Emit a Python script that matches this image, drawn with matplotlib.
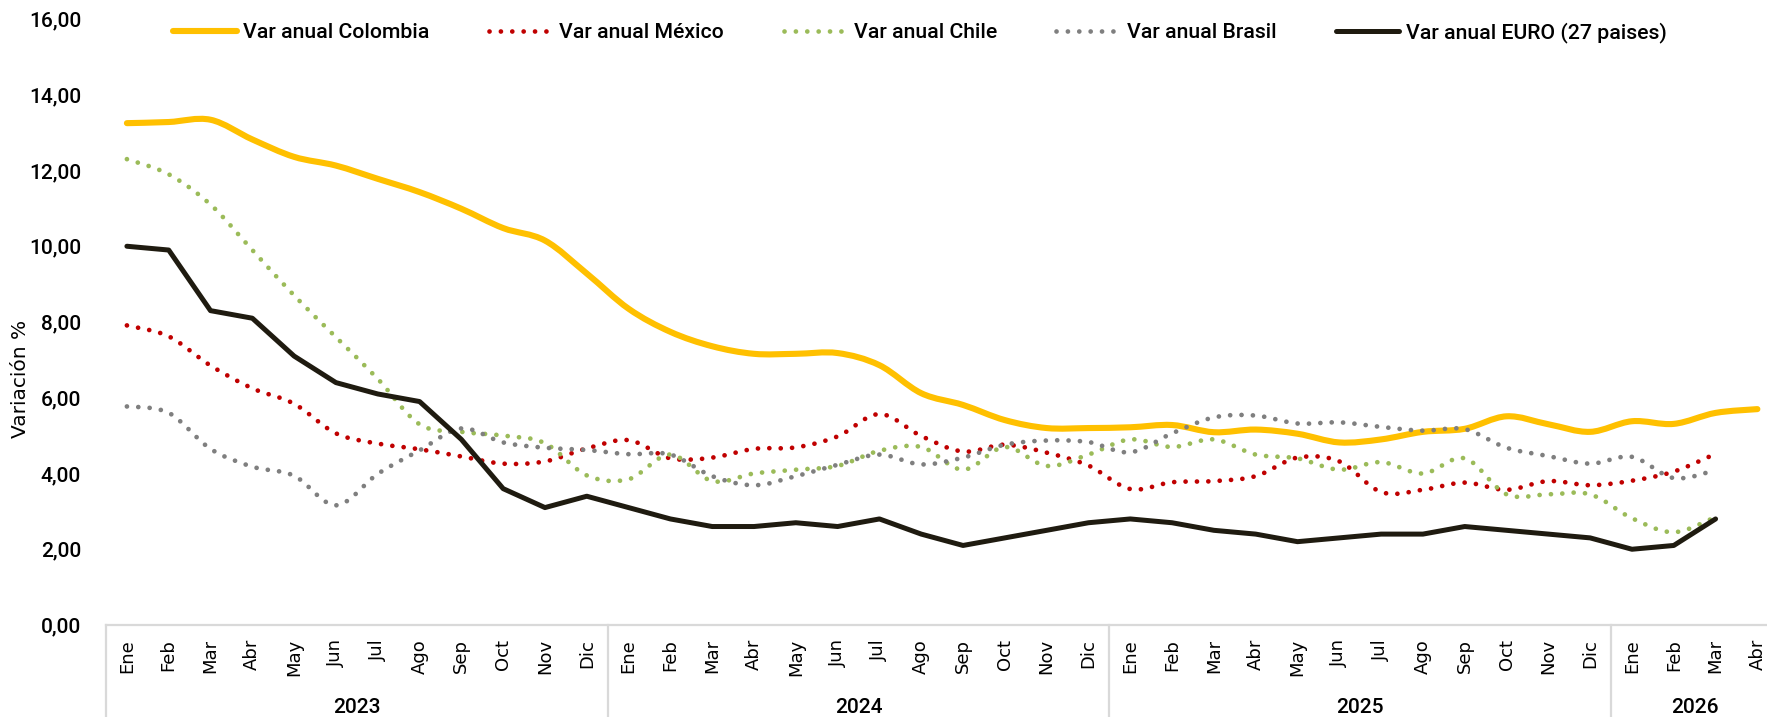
import matplotlib
matplotlib.use("Agg")
import matplotlib.pyplot as plt
import matplotlib.transforms as mtransforms
from matplotlib.path import Path
from matplotlib.patches import PathPatch
from matplotlib.lines import Line2D

# datos (variación anual %)
meses = ["Ene", "Feb", "Mar", "Abr", "May", "Jun", "Jul", "Ago", "Sep", "Oct", "Nov", "Dic"]
etiquetas_mes = meses * 3 + meses[:4]
anios = ["2023", "2024", "2025", "2026"]
meses_por_anio = [12, 12, 12, 4]

colombia = [13.25, 13.28, 13.34, 12.82, 12.36, 12.13, 11.78, 11.43, 10.99, 10.48, 10.15, 9.28,
            8.35, 7.74, 7.36, 7.16, 7.16, 7.18, 6.86, 6.12, 5.81, 5.41, 5.20, 5.20,
            5.22, 5.28, 5.09, 5.16, 5.05, 4.82, 4.90, 5.10, 5.18, 5.51, 5.30, 5.10,
            5.38, 5.31, 5.60, 5.70]
mexico = [7.91, 7.62, 6.85, 6.25, 5.84, 5.06, 4.79, 4.64, 4.45, 4.26, 4.32, 4.66,
          4.88, 4.40, 4.42, 4.65, 4.69, 4.98, 5.57, 4.99, 4.58, 4.76, 4.55, 4.21,
          3.59, 3.77, 3.80, 3.93, 4.42, 4.32, 3.51, 3.57, 3.76, 3.57, 3.80, 3.69,
          3.81, 4.05, 4.52]
chile = [12.3, 11.9, 11.1, 9.9, 8.7, 7.6, 6.5, 5.3, 5.1, 5.0, 4.8, 3.95,
         3.85, 4.5, 3.8, 4.0, 4.1, 4.2, 4.6, 4.7, 4.1, 4.7, 4.2, 4.5,
         4.9, 4.7, 4.9, 4.5, 4.4, 4.1, 4.3, 4.0, 4.4, 3.45, 3.45, 3.45,
         2.82, 2.45, 2.85]
brasil = [5.77, 5.60, 4.65, 4.18, 3.94, 3.16, 3.99, 4.61, 5.19, 4.82, 4.68, 4.62,
          4.51, 4.50, 3.93, 3.69, 3.93, 4.23, 4.50, 4.24, 4.42, 4.76, 4.87, 4.83,
          4.56, 5.06, 5.48, 5.53, 5.32, 5.35, 5.23, 5.13, 5.17, 4.68, 4.46, 4.26,
          4.44, 3.88, 4.09]
euro = [10.0, 9.9, 8.3, 8.1, 7.1, 6.4, 6.1, 5.9, 4.9, 3.6, 3.1, 3.4,
        3.1, 2.8, 2.6, 2.6, 2.7, 2.6, 2.8, 2.4, 2.1, 2.3, 2.5, 2.7,
        2.8, 2.7, 2.5, 2.4, 2.2, 2.3, 2.4, 2.4, 2.6, 2.5, 2.4, 2.3,
        2.0, 2.1, 2.8]

y_ticks = [0, 2, 4, 6, 8, 10, 12, 14, 16]

AMARILLO = "#FFC000"
ROJO = "#C00000"
VERDE = "#9BBB59"
GRIS = "#7F7F7F"
NEGRO = "#1F1B10"
EJE = "#D9D9D9"

NUM_FONT = ["Roboto", "DejaVu Sans"]


def curva_suave(ys):
    # linea suavizada tipo Excel (Catmull-Rom -> Bezier)
    xs = list(range(len(ys)))
    pts = list(zip(xs, ys))
    verts = [pts[0]]
    codes = [Path.MOVETO]
    n = len(pts)
    for i in range(n - 1):
        p0 = pts[i - 1] if i > 0 else pts[i]
        p1 = pts[i]
        p2 = pts[i + 1]
        p3 = pts[i + 2] if i + 2 < n else pts[i + 1]
        c1 = (p1[0] + (p2[0] - p0[0]) / 6, p1[1] + (p2[1] - p0[1]) / 6)
        c2 = (p2[0] - (p3[0] - p1[0]) / 6, p2[1] - (p3[1] - p1[1]) / 6)
        verts += [c1, c2, p2]
        codes += [Path.CURVE4] * 3
    return Path(verts, codes)


fig = plt.figure(figsize=(17.67, 7.17), dpi=100)
ax = fig.add_axes([106 / 1767, 1 - 625 / 717, 1 - 106 / 1767, 606 / 717])

punteado = (0, (0.01, 2.4))
series = [
    (colombia, AMARILLO, 4.4, "-", "Var anual Colombia"),
    (mexico, ROJO, 3.4, punteado, "Var anual México"),
    (chile, VERDE, 3.4, punteado, "Var anual Chile"),
    (brasil, GRIS, 3.4, punteado, "Var anual Brasil"),
]
handles = []
for ys, color, lw, ls, label in series:
    patch = PathPatch(curva_suave(ys), fill=False, edgecolor=color, linewidth=lw,
                      linestyle=ls, capstyle="round", joinstyle="round")
    ax.add_patch(patch)
    handles.append(Line2D([], [], color=color, linewidth=lw, linestyle=ls,
                          dash_capstyle="round", solid_capstyle="round", label=label))

ax.plot(range(len(euro)), euro, color=NEGRO, linewidth=3.6, solid_capstyle="round",
        solid_joinstyle="round")
handles.append(Line2D([], [], color=NEGRO, linewidth=3.6, solid_capstyle="round",
                      label="Var anual EURO (27 paises)"))

ax.set_xlim(-0.5, 39.23)
ax.set_ylim(0, 16)

ax.set_yticks(y_ticks)
ax.set_yticklabels([f"{v:.2f}".replace(".", ",") for v in y_ticks],
                   fontfamily=NUM_FONT, fontsize=15, fontweight="medium")
ax.set_xticks(range(len(etiquetas_mes)))
ax.set_xticklabels(etiquetas_mes, rotation=90, fontfamily="DejaVu Sans", fontsize=13,
                   va="top", ha="center")
ax.tick_params(axis="both", length=0)
ax.tick_params(axis="y", pad=18)
ax.tick_params(axis="x", pad=10)

for s in ["top", "right", "left"]:
    ax.spines[s].set_visible(False)
ax.spines["bottom"].set_color(EJE)
ax.spines["bottom"].set_linewidth(1.6)

# eje de categorías con años
trans = mtransforms.blended_transform_factory(ax.transData, ax.transAxes)
inicio = -0.5
for anio, n in zip(anios, meses_por_anio):
    ax.plot([inicio, inicio], [0, -0.17], transform=trans, color=EJE, linewidth=1.6,
            clip_on=False)
    ax.text(inicio + n / 2, -0.136, anio, transform=trans, ha="center", va="center",
            fontfamily=NUM_FONT, fontsize=15, fontweight="medium")
    inicio += n

fig.text(21 / 1767, 1 - 379 / 717, "Variación %", rotation=90, ha="center", va="center",
         fontfamily="DejaVu Sans", fontsize=14.5)

ax.legend(handles=handles, loc="center", bbox_to_anchor=(0.49, 0.978), ncol=5,
          frameon=False, handlelength=3.0, columnspacing=2.8, handletextpad=0.3,
          prop={"family": NUM_FONT, "size": 15.3, "weight": "medium"})

fig.savefig("out.png", dpi=100)
